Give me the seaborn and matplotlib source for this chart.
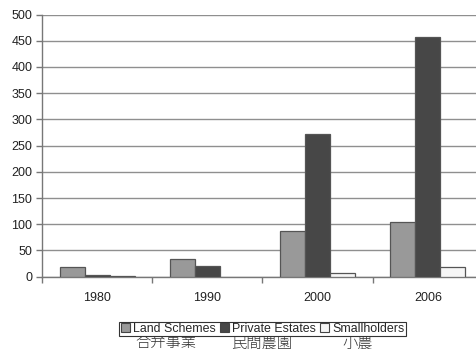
import matplotlib
matplotlib.use("Agg")
import matplotlib.pyplot as plt
import seaborn as sns
import pandas as pd
from matplotlib.patches import Patch

# Plantation area by ownership type (thousand ha)
years = ["1980", "1990", "2000", "2006"]
land_schemes = [18, 33, 87, 105]
private_estates = [4, 21, 273, 457]
smallholders = [1.5, 0, 8, 18]
series_names = ["Land Schemes", "Private Estates", "Smallholders"]
series_labels_ja = ["合弁事業", "民間農園", "小農"]
y_ticks = [0, 50, 100, 150, 200, 250, 300, 350, 400, 450, 500]

df = pd.DataFrame({
    "year": years * 3,
    "series": [s for s in series_names for _ in years],
    "value": land_schemes + private_estates + smallholders,
})

sns.set_style("white")
plt.rcParams["font.family"] = ["Liberation Sans", "DejaVu Sans"]

W, H = 477, 349
fig = plt.figure(figsize=(W / 100, H / 100), dpi=100)
left, right, bottom, top = 42, 483, 349 - 276.7, 349 - 14.5
ax = fig.add_axes([left / W, bottom / H, (right - left) / W, (top - bottom) / H])

palette = {"Land Schemes": "#999999", "Private Estates": "#474747", "Smallholders": "#f6f6f6"}
sns.barplot(data=df, x="year", y="value", hue="series", order=years,
            hue_order=series_names, palette=palette, width=0.68, gap=0,
            edgecolor="#555555", linewidth=0.9, saturation=1, ax=ax,
            legend=False, zorder=3)

# zero-height bars leave no outline
for bar in ax.patches:
    if bar.get_height() == 0:
        bar.set_visible(False)

ax.set_ylim(0, 500)
ax.set_xlim(-0.5, 3.5)
ax.set_yticks(y_ticks)
ax.yaxis.grid(True, color="#8f8f8f", linewidth=1.0, zorder=0)
ax.set_axisbelow(True)
ax.set_xlabel("")
ax.set_ylabel("")

for side in ["top", "right"]:
    ax.spines[side].set_visible(False)
for side in ["left", "bottom"]:
    ax.spines[side].set_color("#777777")
    ax.spines[side].set_linewidth(1.0)

ax.tick_params(axis="y", which="major", direction="out", length=4, width=1,
               color="#777777", left=True, labelsize=9, pad=3, labelcolor="#222222")
ax.tick_params(axis="x", which="major", length=0, labelsize=9, pad=11, labelcolor="#222222")
ax.set_xticks([-0.5, 0.5, 1.5, 2.5, 3.5], minor=True)
ax.tick_params(axis="x", which="minor", direction="out", length=4, width=1,
               color="#777777", bottom=True)

# Legend below the plot
handles = [Patch(facecolor=palette[s], edgecolor="#444444", linewidth=0.8) for s in series_names]
leg = fig.legend(handles, series_names, loc="center", bbox_to_anchor=(262.5 / W, 1 - 329 / H),
                 ncol=3, fontsize=8.9, frameon=True, fancybox=False, framealpha=1,
                 edgecolor="#333333", handlelength=0.75, handleheight=0.75,
                 handletextpad=0.25, columnspacing=0.3, borderpad=0.12,
                 borderaxespad=0)
leg.get_frame().set_linewidth(0.8)

# Japanese captions under the legend entries
for x_px, txt in zip([135, 231, 342], series_labels_ja):
    fig.text(x_px / W, 1 - 335.5 / H, txt, ha="left", va="top", fontsize=11,
             family=["Noto Sans CJK JP", "DejaVu Sans"], fontweight="light",
             color="#333333")

fig.savefig("out.png", dpi=100)
